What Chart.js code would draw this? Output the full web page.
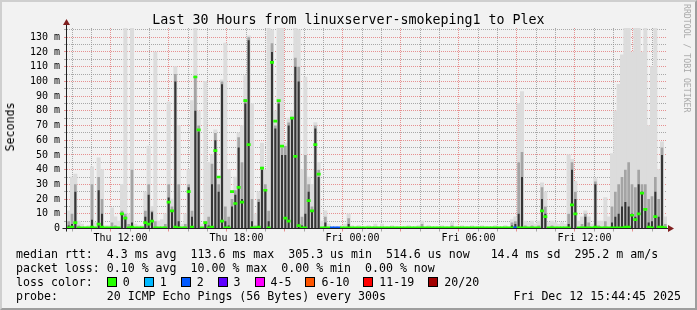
<!DOCTYPE html>
<html>
<head>
<meta charset="utf-8">
<script src="https://cdn.jsdelivr.net/npm/chart.js@4.4.1/dist/chart.umd.min.js"></script>
<style>
  html, body { margin: 0; padding: 0; background: #f2f2f2; }
  #wrap { position: relative; width: 697px; height: 310px; background: #f2f2f2; overflow: hidden;
          font-family: "DejaVu Sans Mono", monospace; color: #000; }
  #frame { position: absolute; left: 0; top: 0; width: 697px; height: 310px; box-sizing: border-box;
           border: 2px solid; border-color: #cfcfcf #9e9e9e #9e9e9e #cfcfcf; pointer-events: none; }
  canvas { position: absolute; left: 0; top: 0; }
  .t { position: absolute; white-space: pre; }
  #title { left: 0; width: 697px; top: 12px; text-align: center; font-size: 13.3px; line-height: 15px; }
  .leg { left: 16px; font-size: 11.6px; line-height: 14px; }
  #ylab { left: 10px; top: 127px; font-size: 11.6px; line-height: 14px; transform: translate(-50%, -50%) rotate(-90deg); }
  #wm { left: 687px; top: 4px; font-size: 8.2px; line-height: 9px; color: #a9a9a9; transform-origin: 0 0; transform: rotate(90deg) translate(0, -4px); }
  .box { display: inline-block; width: 8px; height: 8px; border: 1px solid #000; vertical-align: -1px; margin-right: 6px; }
</style>
</head>
<body>
<div id="wrap">
  <canvas id="c" width="697" height="310"></canvas>
  <div class="t" id="title">Last 30 Hours from linuxserver-smokeping1 to Plex</div>
  <div class="t" id="ylab">Seconds</div>
  <div class="t" id="wm">RRDTOOL / TOBI OETIKER</div>
  <div class="t leg" style="top:247px">median rtt:  4.3 ms avg  113.6 ms max  305.3 us min  514.6 us now   14.4 ms sd  295.2 m am/s</div>
  <div class="t leg" style="top:261px">packet loss: 0.10 % avg  10.00 % max  0.00 % min  0.00 % now</div>
  <div class="t leg" id="losscol" style="top:275px"></div>
  <div class="t leg" style="top:289px">probe:       20 ICMP Echo Pings (56 Bytes) every 300s</div>
  <div class="t leg" style="top:289px;left:auto;right:16px">Fri Dec 12 15:44:45 2025</div>
  <div id="frame"></div>
</div>
<script>
// 10 minute bins, Thu 09:45 -> Fri 15:45 (values in ms)
const light = [
  12,35,37,5,3,1,2,42,4,48,40,2,2,14,8,5,30,137,10,137,
  3,2,2,25,56,15,120,5,6,10,86,20,110,70,3,10,40,87,137,80,
  3,100,45,50,67,35,101,126,40,26,35,65,70,104,131,85,10,25,58,40,
  137,135,80,137,137,58,75,80,137,135,40,103,35,30,72,45,5,12,3,1,
  1,1,2,3,10,2,1,2,1,1,2,1,3,1,3,1,1,2,1,1,
  1,1,2,1,1,2,5,1,2,1,1,1,2,1,1,4,1,1,2,1,
  1,2,1,1,2,1,1,1,2,1,1,2,1,6,8,85,93,5,4,5,
  3,5,31,25,4,5,4,3,4,3,50,47,32,5,8,12,8,3,34,5,
  5,21,8,51,80,98,118,137,137,120,137,137,120,137,70,110,137,40,59,8
];
const mid = [
  5,10,30,2,1,0,0,30,1,35,20,0,0,4,2,1,12,10,3,40,
  0,0,0,12,30,12,5,0,0,3,30,15,105,30,0,3,30,12,104,70,
  0,5,8,44,65,30,100,15,8,20,26,62,45,88,130,20,2,20,42,30,
  12,126,70,87,55,56,72,76,116,110,8,50,30,15,70,40,0,8,0,0,
  0,0,0,0,7,0,0,0,0,0,0,0,0,0,0,0,0,0,0,0,
  0,0,0,0,0,0,3,0,0,0,0,0,0,0,0,2,0,0,0,0,
  0,0,0,0,0,0,0,0,0,0,0,0,0,4,5,45,52,2,0,2,
  0,2,28,15,0,2,0,0,0,0,10,45,25,0,3,10,4,0,32,2,
  0,5,0,15,25,30,35,40,45,30,28,40,30,30,20,22,35,20,55,3
];
const dark = [
  2,3,25,1,0,0,0,6,0,26,10,0,0,1,0,0,10,8,0,4,
  0,0,0,8,23,11,1,0,0,0,21,12,100,5,0,0,28,8,80,66,
  0,4,2,30,60,25,98,5,2,15,23,55,20,85,128,5,0,18,40,26,
  5,120,68,85,50,50,70,75,110,100,2,10,25,12,68,35,0,4,0,0,
  0,0,0,0,3,0,0,0,0,0,0,0,0,0,0,0,0,0,0,0,
  0,0,0,0,0,0,0,0,0,0,0,0,0,0,0,0,0,0,0,0,
  0,0,0,0,0,0,0,0,0,0,0,0,0,2,3,10,35,0,0,0,
  0,0,20,10,0,0,0,0,0,0,3,40,20,0,0,8,0,0,30,0,
  0,0,0,4,8,10,15,18,15,10,8,30,25,12,4,5,25,8,50,0
];
const median = [
  0.5,1,4,0.5,0.5,0.5,0.5,1,0.5,3,1,0.5,0.5,0.5,0.5,0.5,10,7,0.5,1,
  0.5,0.5,0.5,4,3,5,0.5,0.5,0.5,0.5,18,12,1,0.5,0.5,0.5,25,1,103,67,
  0.5,4,0.5,1,53,35,5,0.5,0.5,25,17,28,18,87,57,0.5,0.5,1,41,26,
  0.5,113,73,87,56,7,5,75,49,2,0.5,0.5,19,12,57,37,0.5,0.5,0.5,0.5,
  0.5,0.5,0.5,0.5,0.5,0.5,0.5,0.5,0.5,0.5,0.5,0.5,0.5,0.5,0.5,0.5,0.5,0.5,0.5,0.5,
  0.5,0.5,0.5,0.5,0.5,0.5,0.5,0.5,0.5,0.5,0.5,0.5,0.5,0.5,0.5,0.5,0.5,0.5,0.5,0.5,
  0.5,0.5,0.5,0.5,0.5,0.5,0.5,0.5,0.5,0.5,0.5,0.5,0.5,0.5,0.5,0.5,0.5,0.5,0.5,0.5,
  0.5,0.5,12,8,0.5,0.5,0.5,0.5,0.5,0.5,0.5,16,10,0.5,0.5,0.5,0.5,0.5,1,0.5,
  0.5,0.5,0.5,0.5,0.5,0.5,0.5,1,1,9,6,10,24,13,1,0.5,8,1,1,0.5
];
// lost pings per bin (out of 20)
const loss = [
  0,0,0,0,0,0,0,0,0,0,0,0,0,0,0,0,0,0,0,0,
  0,0,0,0,0,0,0,0,0,0,0,0,0,0,0,0,0,0,0,0,
  0,0,0,0,0,0,0,0,0,0,0,0,0,0,0,0,0,0,0,0,
  0,0,0,0,0,0,0,0,0,0,0,0,0,0,0,0,0,0,0,2,
  2,2,0,0,0,0,0,0,0,0,0,0,0,0,0,0,0,0,0,0,
  0,0,0,0,0,0,0,0,0,0,0,0,0,0,0,0,0,0,0,0,
  0,0,0,0,0,0,0,0,0,0,0,0,0,0,2,0,0,0,0,0,
  0,0,0,0,0,0,0,0,0,0,0,0,0,0,0,0,0,0,0,0,
  0,0,0,0,0,0,0,0,0,0,0,0,0,0,0,0,0,0,0,0
];

const lossLabels = ['0', '1', '2', '3', '4-5', '6-10', '11-19', '20/20'];
const lossColors = ['#26ff00', '#00b8ff', '#0059ff', '#5e00ff', '#ff00ff', '#ff5500', '#ff0000', '#a10000'];

// x axis in hours from Thu 12:00
const xTickHours = [0, 6, 12, 18, 24];
const xTickLabels = ['Thu 12:00', 'Thu 18:00', 'Fri 00:00', 'Fri 06:00', 'Fri 12:00'];
const yTickValues = [0, 10, 20, 30, 40, 50, 60, 70, 80, 90, 100, 110, 120, 130];
const yTickLabels = ['0', '10 m', '20 m', '30 m', '40 m', '50 m', '60 m', '70 m', '80 m', '90 m', '100 m', '110 m', '120 m', '130 m'];

// legend row with colour boxes
document.getElementById('losscol').innerHTML = 'loss color:  ' + lossLabels.map((l, i) =>
  `<span class="box" style="background:${lossColors[i]}"></span>${l}`).join('  ');

function lossColor(n) {
  if (n <= 3) return lossColors[n];
  if (n <= 5) return lossColors[4];
  if (n <= 10) return lossColors[5];
  if (n <= 19) return lossColors[6];
  return lossColors[7];
}

const GRID = 'rgba(143,143,143,0.75)';
const MGRID = 'rgba(222,79,79,0.6)';

const rrdAxes = {
  id: 'rrdAxes',
  afterDraw(chart) {
    const { ctx, chartArea: a } = chart;
    const x0 = Math.floor(a.left) - 0.5;
    const y0 = Math.floor(a.bottom) + 0.5;
    ctx.save();
    ctx.strokeStyle = '#1f1f1f';
    ctx.lineWidth = 1;
    ctx.beginPath();
    ctx.moveTo(x0, y0 + 3); ctx.lineTo(x0, a.top - 4);
    ctx.moveTo(x0 - 4, y0); ctx.lineTo(a.right + 3, y0);
    ctx.stroke();
    ctx.fillStyle = '#801f1f';
    ctx.beginPath();
    ctx.moveTo(x0, a.top - 9); ctx.lineTo(x0 - 3.5, a.top - 3); ctx.lineTo(x0 + 3.5, a.top - 3);
    ctx.closePath(); ctx.fill();
    ctx.beginPath();
    ctx.moveTo(a.right + 7, y0); ctx.lineTo(a.right + 1, y0 - 3.5); ctx.lineTo(a.right + 1, y0 + 3.5);
    ctx.closePath(); ctx.fill();
    ctx.restore();
  }
};

const bins = light.map((_, i) => i);
const common = { xAxisID: 'xb', yAxisID: 'y', grouped: false, categoryPercentage: 1, borderWidth: 0 };

new Chart(document.getElementById('c'), {
  type: 'bar',
  data: {
    labels: bins,
    datasets: [
      { ...common, label: 'median', order: 0, barPercentage: 1, data: median.map(m => [m - 0.7, m + 0.7]), backgroundColor: loss.map(lossColor) },
      { ...common, label: 'dark', order: 1, barPercentage: 0.6, data: dark, backgroundColor: '#353535' },
      { ...common, label: 'mid', order: 2, barPercentage: 0.8, data: mid, backgroundColor: '#a4a4a4' },
      { ...common, label: 'light', order: 3, barPercentage: 1, data: light, backgroundColor: '#dcdcdc' }
    ]
  },
  options: {
    responsive: false,
    animation: false,
    devicePixelRatio: 1,
    layout: { padding: { left: 0, top: 28, right: 30, bottom: 0 } },
    plugins: { legend: { display: false }, tooltip: { enabled: false } },
    scales: {
      xb: { type: 'category', display: false, offset: true },
      x: {
        type: 'linear', position: 'bottom', min: -2.25, max: 27.75,
        afterBuildTicks: s => { const t = []; for (let h = -2; h <= 27; h++) t.push({ value: h }); s.ticks = t; },
        afterFit: s => { s.height = 81.5; },
        grid: { color: c => (c.tick && c.tick.value % 3 === 0) ? MGRID : GRID, tickLength: 3 },
        border: { display: false, dash: [1, 1] },
        ticks: {
          autoSkip: false, maxRotation: 0, padding: 1, color: '#000',
          font: { family: 'DejaVu Sans Mono', size: 10 },
          callback: v => { const i = xTickHours.indexOf(v); return i < 0 ? '' : xTickLabels[i]; }
        }
      },
      y: {
        min: 0, max: 136.3,
        afterBuildTicks: s => { const t = []; for (let v = 0; v <= 135; v += 5) t.push({ value: v }); s.ticks = t; },
        afterFit: s => { s.width = 67; },
        grid: { color: c => (c.tick && c.tick.value % 10 === 0) ? MGRID : GRID, tickLength: 3 },
        border: { display: false, dash: [1, 1] },
        ticks: {
          autoSkip: false, padding: 4, color: '#000',
          font: { family: 'DejaVu Sans Mono', size: 10 },
          callback: v => { const i = yTickValues.indexOf(v); return i < 0 ? '' : yTickLabels[i]; }
        }
      }
    }
  },
  plugins: [rrdAxes]
});
</script>
</body>
</html>
